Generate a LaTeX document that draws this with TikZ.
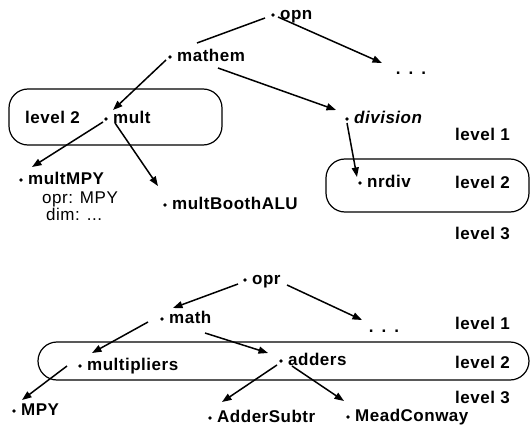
\documentclass[tikz,border=0pt]{standalone}
\usepackage{fontspec}
\setmainfont[LetterSpace=3]{Liberation Sans}
\usetikzlibrary{arrows.meta,calc}

\tikzset{
  lbl/.style={font=\fontsize{17}{20}\selectfont\bfseries,inner sep=0pt,
    anchor=base west,xshift=5pt,yshift=-4.5pt},
  pt/.style={circle,fill,inner sep=0pt,minimum size=3.6pt,
    label={[lbl]east:#1}},
  txt/.style={font=\fontsize{17}{20}\selectfont\bfseries,inner sep=0pt,
    anchor=base west},
  note/.style={font=\fontsize{17}{20}\selectfont,inner sep=0pt,anchor=base west},
  more/.style={font=\fontsize{17}{20}\selectfont\bfseries,inner sep=0pt},
  link/.style={line width=1.5pt},
  arr/.style={link,-{Triangle[length=9.5pt,width=7pt]}},
  grp/.style={line width=1.2pt,rounded corners=19pt}
}

\begin{document}
\begin{tikzpicture}[x=1pt,y=-1pt]
\useasboundingbox (0,0) rectangle (531,428);

% upper tree
\draw[grp] (9,89) rectangle (222,145);
\draw[grp] (326,159) rectangle (529,212);

\node[pt=opn] (opn) at (273,15) {};
\node[pt=mathem] (mathem) at (170,57) {};
\node[more] (more1) at (411,73) {.\hspace{8pt}.\hspace{8pt}.};
\node[pt={\itshape division}] (division) at (347,119) {};
\node[pt=nrdiv] (nrdiv) at (360,183) {};
\node[pt=mult] (mult) at (106,119) {};
\node[pt=multMPY] (multmpy) at (21,180) {};
\node[note] (oprnote) at (42,204) {opr: MPY};
\node[note] (dimnote) at (46,220) {dim: ...};
\node[pt=multBoothALU] (booth) at (165,205) {};

\node[txt] (lvA2) at (25,124) {level 2};
\node[txt] (lvB1) at (455,141) {level 1};
\node[txt] (lvB2) at (455,189) {level 2};
\node[txt] (lvB3) at (455,240) {level 3};

\draw[link] ($(opn)+(-8,3)$) -- ($(mathem)+(27,-14)$);
\draw[arr] ($(opn)+(5,2)$) -- ($(more1)+(-29,-10)$);
\draw[arr] ($(mathem)+(-4,3)$) -- ($(mult)+(7,-9)$);
\draw[arr] ($(mathem)+(48,11)$) -- ($(division)+(-11,-9)$);
\draw[arr] ($(division)+(0,4)$) -- ($(nrdiv)+(-3,-6)$);
\draw[arr] ($(mult)+(-3,3)$) -- ($(multmpy)+(11,-13)$);
\draw[arr] ($(mult)+(9,4)$) -- ($(booth)+(-7,-19)$);

% lower tree
\draw[grp] (38,342) rectangle (529,380);

\node[pt=opr] (opr) at (245,280) {};
\node[pt=math] (math) at (162,319) {};
\node[more] (more2) at (384,331) {.\hspace{8pt}.\hspace{8pt}.};
\node[pt=multipliers] (multipliers) at (80,366) {};
\node[pt=adders] (adders) at (281,361) {};
\node[pt=MPY] (mpy) at (14,411) {};
\node[pt=AdderSubtr] (addsub) at (210,418) {};
\node[pt=MeadConway] (mead) at (348,417) {};

\node[txt] (lvC1) at (455,329) {level 1};
\node[txt] (lvC2) at (455,368) {level 2};
\node[txt] (lvC3) at (455,403) {level 3};

\draw[arr] ($(opr)+(-7,4)$) -- ($(math)+(11,-11)$);
\draw[arr] ($(opr)+(42,5)$) -- ($(more2)+(-22,-11)$);
\draw[arr] ($(math)+(-14,3)$) -- ($(multipliers)+(12,-13)$);
\draw[arr] ($(math)+(43,14)$) -- ($(adders)+(-13,-8)$);
\draw[arr] ($(multipliers)+(-13,0)$) -- ($(mpy)+(8,-11)$);
\draw[arr] ($(adders)+(-4,4)$) -- ($(addsub)+(12,-16)$);
\draw[arr] ($(adders)+(11,5)$) -- ($(mead)+(-4,-16)$);
\end{tikzpicture}
\end{document}
